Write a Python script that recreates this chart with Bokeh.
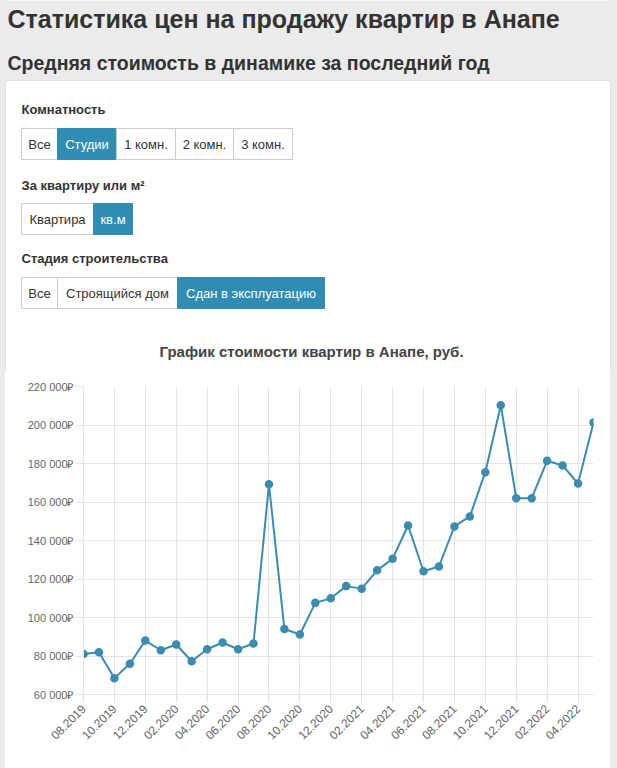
from bokeh.plotting import figure
from bokeh.layouts import column
from bokeh.models import Range1d, FixedTicker
from bokeh.core.properties import value
from bokeh.embed import file_html
from bokeh.resources import INLINE

# ---------------- data ----------------
months = ["08.2019", "09.2019", "10.2019", "11.2019", "12.2019", "01.2020", "02.2020",
          "03.2020", "04.2020", "05.2020", "06.2020", "07.2020", "08.2020", "09.2020",
          "10.2020", "11.2020", "12.2020", "01.2021", "02.2021", "03.2021", "04.2021",
          "05.2021", "06.2021", "07.2021", "08.2021", "09.2021", "10.2021", "11.2021",
          "12.2021", "01.2022", "02.2022", "03.2022", "04.2022", "05.2022"]
prices = [81000, 82000, 68500, 76000, 88000, 83000, 86000, 77300, 83500, 87000,
          83500, 86500, 169200, 94000, 91200, 107600, 110000, 116300, 115000, 124500,
          130500, 147800, 124000, 126500, 147300, 152500, 175500, 210300, 162000,
          162000, 181400, 179000, 169600, 201300]
y_ticks = [60000, 80000, 100000, 120000, 140000, 160000, 180000, 200000, 220000]
y_tick_labels = ["60 000₽", "80 000₽", "100 000₽", "120 000₽", "140 000₽",
                 "160 000₽", "180 000₽", "200 000₽", "220 000₽"]

page_title = "Статистика цен на продажу квартир в Анапе"
page_subtitle = "Средняя стоимость в динамике за последний год"
chart_title = "График стоимости квартир в Анапе, руб."
groups = [
    ("Комнатность", ["Все", "Студии", "1 комн.", "2 комн.", "3 комн."], 1),
    ("За квартиру или м²", ["Квартира", "кв.м"], 1),
    ("Стадия строительства", ["Все", "Строящийся дом", "Сдан в эксплуатацию"], 2),
]

# ---------------- styles / layout ----------------
FONT_NAME = "Liberation Sans"
FONT = value(FONT_NAME)
W = 617
H_HEAD = 370
H_CHART = 398
BLUE = "#2f8cb2"
LINE = "#3a8cb0"
GRID = "#e4e4e4"
BG = "#ebebeb"
PANEL_L, PANEL_R, PANEL_T = 5, 610, 80

# header figure in pixel coordinates (origin top-left of the page)
h = figure(width=W, height=H_HEAD, output_backend="svg", toolbar_location=None,
           x_range=Range1d(0, W), y_range=Range1d(H_HEAD, 0),
           x_axis_type=None, y_axis_type=None, min_border=0,
           outline_line_color=None, background_fill_color=BG,
           border_fill_color=BG)
h.grid.visible = False
h.frame_align = False

# white panel
h.quad(left=[PANEL_L], right=[PANEL_R], top=[PANEL_T], bottom=[H_HEAD + 5],
       fill_color="white", line_color="#e0e0e0", line_width=1)

h.text(x=[7], y=[18], text=[page_title], text_font=FONT, text_font_style="bold",
       text_font_size="25px", text_color="#333333", text_baseline="middle")
h.text(x=[7], y=[62], text=[page_subtitle], text_font=FONT, text_font_style="bold",
       text_font_size="19.5px", text_color="#333333", text_baseline="middle")

label_y = [109, 185, 258]
btn_top = [128, 203, 277]
btn_h = 31
btn_edges = [
    [21, 57, 116, 175, 233, 292],
    [21, 93, 132],
    [21, 57, 177, 324],
]
for (lab, names, active), ly, bt, edges in zip(groups, label_y, btn_top, btn_edges):
    h.text(x=[21], y=[ly], text=[lab], text_font=FONT, text_font_style="bold",
           text_font_size="13px", text_color="#333333", text_baseline="middle")
    lefts = edges[:-1]
    rights = edges[1:]
    fills = [BLUE if i == active else "white" for i in range(len(names))]
    lines = [BLUE if i == active else "#cccccc" for i in range(len(names))]
    h.quad(left=lefts, right=rights, top=[bt] * len(names), bottom=[bt + btn_h] * len(names),
           fill_color=fills, line_color=lines, line_width=1)
    cx = [(a + b) / 2 for a, b in zip(lefts, rights)]
    tcol = ["white" if i == active else "#333333" for i in range(len(names))]
    h.text(x=cx, y=[bt + btn_h / 2 + 0.5] * len(names), text=names, text_font=FONT,
           text_font_size="13px", text_color=tcol, text_align="center",
           text_baseline="middle")

h.text(x=[311], y=[351], text=[chart_title], text_font=FONT, text_font_style="bold",
       text_font_size="15px", text_color="#444444", text_align="center",
       text_baseline="middle")

# ---------------- chart ----------------
xs = list(range(len(months)))
p = figure(width=PANEL_R - PANEL_L, height=H_CHART, output_backend="svg",
           toolbar_location=None,
           x_range=Range1d(0, len(months) - 1), y_range=Range1d(y_ticks[0], y_ticks[-1]),
           min_border_left=83 - PANEL_L, min_border_right=PANEL_R - 593,
           min_border_top=386 - H_HEAD, min_border_bottom=H_HEAD + H_CHART - 694,
           outline_line_color=None,
           background_fill_color="white", border_fill_color="white")
p.frame_align = False
p.margin = (0, W - PANEL_R, 0, PANEL_L)

p.line(xs, prices, line_color=LINE, line_width=2)
p.scatter(xs, prices, size=7, fill_color=LINE, line_color=LINE, line_width=1.5)

p.yaxis.ticker = FixedTicker(ticks=y_ticks)
p.yaxis.major_label_overrides = {t: l for t, l in zip(y_ticks, y_tick_labels)}
x_tick_idx = xs[::2]
p.xaxis.ticker = FixedTicker(ticks=x_tick_idx)
p.xaxis.major_label_overrides = {i: months[i] for i in x_tick_idx}
p.xaxis.major_label_orientation = 0.785398

for ax in (p.xaxis, p.yaxis):
    ax.axis_line_color = GRID
    ax.major_tick_line_color = GRID
    ax.major_tick_out = 8
    ax.major_tick_in = 0
    ax.minor_tick_line_color = None
    ax.major_label_text_font = FONT_NAME
    ax.major_label_text_color = "#666666"
p.yaxis.major_label_text_font_size = "11px"
p.xaxis.major_label_text_font_size = "12px"
p.yaxis.major_label_standoff = 2
p.xaxis.major_label_standoff = 4
p.grid.grid_line_color = GRID

bg_css = (f"linear-gradient(to right, {BG} {PANEL_L}px, white {PANEL_L}px, "
          f"white {PANEL_R}px, {BG} {PANEL_R}px)")
layout = column(h, p, spacing=0, styles={"background": bg_css})
open("out.html", "w").write(file_html(layout, INLINE))
